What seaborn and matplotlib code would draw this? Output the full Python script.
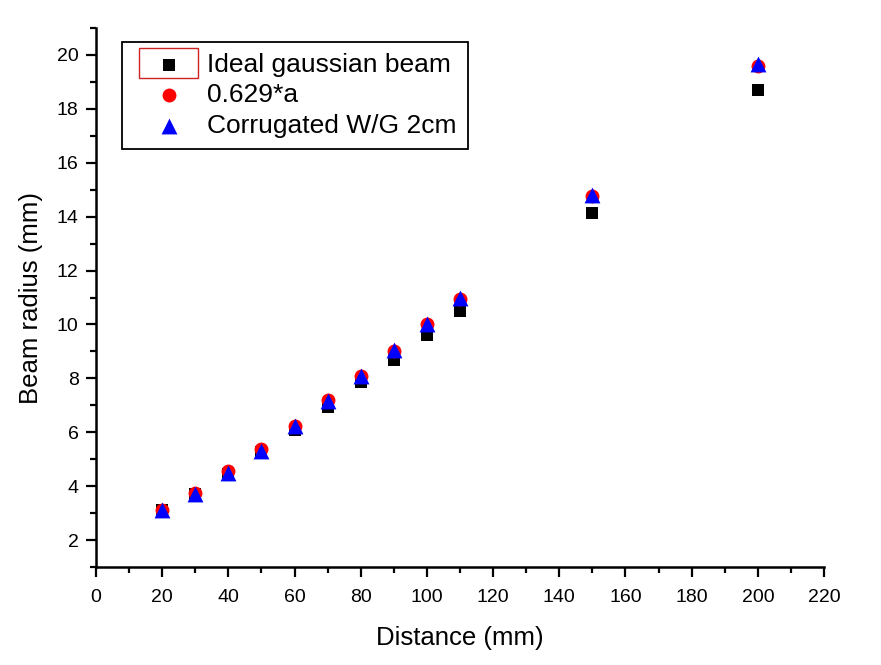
import matplotlib
matplotlib.use("Agg")
import matplotlib.pyplot as plt
import seaborn as sns
import pandas as pd
from matplotlib.ticker import MultipleLocator
from matplotlib.patches import Rectangle

distance = [20, 30, 40, 50, 60, 70, 80, 90, 100, 110, 150, 200]
ideal = [3.1, 3.7, 4.45, 5.25, 6.1, 6.95, 7.85, 8.68, 9.6, 10.5, 14.12, 18.7]
fit_0629a = [3.12, 3.75, 4.56, 5.38, 6.25, 7.18, 8.1, 9.02, 10.0, 10.95, 14.75, 19.58]
corrugated = [3.1, 3.7, 4.47, 5.3, 6.22, 7.15, 8.1, 9.05, 10.0, 10.97, 14.8, 19.65]
series_names = ["Ideal gaussian beam", "0.629*a", "Corrugated W/G 2cm"]

df = pd.DataFrame({"Distance": distance, "ideal": ideal, "fit": fit_0629a, "corr": corrugated})

sns.set_theme(style="ticks")
plt.rcParams["font.family"] = ["Liberation Sans", "DejaVu Sans"]
plt.rcParams["text.color"] = "black"
plt.rcParams["axes.labelcolor"] = "black"
plt.rcParams["xtick.color"] = "black"
plt.rcParams["ytick.color"] = "black"

fig = plt.figure(figsize=(8.81, 6.65), dpi=100)
ax = fig.add_axes([96/881, 1-567/665, 728/881, 539/665])

sns.scatterplot(data=df, x="Distance", y="ideal", marker="s", color="black", s=85,
                linewidth=0, label=series_names[0], ax=ax, zorder=3)
sns.scatterplot(data=df, x="Distance", y="fit", marker="o", color="red", s=100,
                linewidth=0, label=series_names[1], ax=ax, zorder=4)
sns.scatterplot(data=df, x="Distance", y="corr", marker="^", color="blue", s=130,
                linewidth=0, label=series_names[2], ax=ax, zorder=5)

ax.set_xlim(0, 220)
ax.set_ylim(1, 21)
ax.xaxis.set_major_locator(MultipleLocator(20))
ax.xaxis.set_minor_locator(MultipleLocator(10))
ax.set_yticks([2, 4, 6, 8, 10, 12, 14, 16, 18, 20])
ax.yaxis.set_minor_locator(MultipleLocator(1))

for s in ["top", "right"]:
    ax.spines[s].set_visible(False)
for s in ["left", "bottom"]:
    ax.spines[s].set_linewidth(1.8)
    ax.spines[s].set_color("black")

ax.tick_params(axis="both", which="major", direction="out", length=7.5, width=1.6,
               colors="black", labelcolor="black", labelsize=14)
ax.tick_params(axis="both", which="minor", direction="out", length=4, width=1.6, colors="black")
ax.tick_params(axis="x", pad=8)
ax.tick_params(axis="y", pad=5)

ax.set_xlabel("Distance (mm)", fontsize=18.5, labelpad=15, color="black")
ax.set_ylabel("Beam radius (mm)", fontsize=18.5, labelpad=10, color="black")

leg = ax.legend(loc="upper left", bbox_to_anchor=(26/728, (567-147)/539, 346/728, 105/539),
                mode="expand", fontsize=19,
                frameon=True, fancybox=False, edgecolor="black", framealpha=1,
                handletextpad=0.04, borderpad=0.42, labelspacing=0.24,
                handlelength=2.75, markerscale=1.0, borderaxespad=0)
leg.get_frame().set_linewidth(1.3)
for t in leg.get_texts():
    t.set_color("black")

# red selection box around the first legend symbol
fig.patches.append(Rectangle((139/881, 1-78/665), (198-139)/881, (78-48)/665,
                             transform=fig.transFigure, fill=False,
                             edgecolor="#cc2222", linewidth=1.0, zorder=10))

fig.savefig("out.png", dpi=100)
